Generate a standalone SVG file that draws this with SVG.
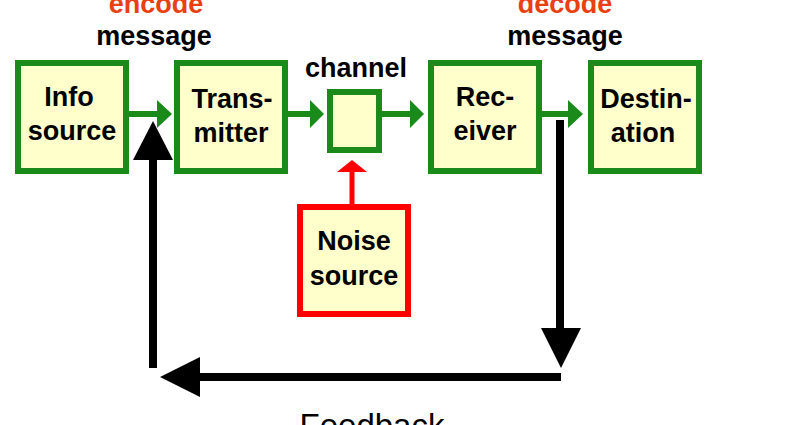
<svg xmlns="http://www.w3.org/2000/svg" width="809" height="425" viewBox="0 0 809 425">
<style>
.box{fill:#ffffcc;stroke:#1a8a1a;stroke-width:6}
.nbox{fill:#ffffcc;stroke:#ff0000;stroke-width:6}
text{font-family:"Liberation Sans",Arial,sans-serif;font-weight:bold;font-size:27px;text-anchor:middle;fill:#000}
.red{fill:#e84010}
.g{stroke:#1a8a1a;stroke-width:6;fill:none}
.k{stroke:#000;stroke-width:8;fill:none}
</style>
<rect width="809" height="425" fill="#fff"/>
<text class="red" x="156" y="13">encode</text>
<text x="154" y="45">message</text>
<text class="red" x="565" y="13">decode</text>
<text x="565" y="45">message</text>
<text x="356" y="77">channel</text>
<g id="info"><rect class="box" x="18" y="63" width="108" height="108"/><text x="69" y="106">Info</text><text x="72" y="140">source</text></g>
<g id="transmitter"><rect class="box" x="177" y="63" width="108" height="108"/><text x="232" y="108">Trans-</text><text x="231" y="142">mitter</text></g>
<g id="channel"><rect class="box" x="330" y="92" width="49" height="58"/></g>
<g id="receiver"><rect class="box" x="431" y="63" width="108" height="108"/><text x="485" y="106">Rec-</text><text x="485" y="140">eiver</text></g>
<g id="destination"><rect class="box" x="591" y="63" width="108" height="108"/><text x="646" y="108">Destin-</text><text x="643" y="142">ation</text></g>
<g id="noise"><rect class="nbox" x="300" y="207" width="108" height="107"/><text x="354" y="250">Noise</text><text x="354" y="285">source</text></g>
<g id="connectors">
<line class="g" x1="129" y1="114" x2="158" y2="114"/><polygon points="157,100 172,114 157,128" fill="#1a8a1a"/>
<line class="g" x1="288" y1="114" x2="312" y2="114"/><polygon points="310,100 324,114 310,128" fill="#1a8a1a"/>
<line class="g" x1="382" y1="114" x2="412" y2="114"/><polygon points="410,100 424,114 410,128" fill="#1a8a1a"/>
<line class="g" x1="542" y1="114" x2="570" y2="114"/><polygon points="568,100 583,114 568,128" fill="#1a8a1a"/>
<line x1="352" y1="204" x2="352" y2="170" stroke="#ff0000" stroke-width="5"/><polygon points="337,172 352,160 367,172" fill="#ff0000"/>
<polyline class="k" points="560,120 560,332"/><polygon points="541,328 581,328 561,368" fill="#000"/>
<polyline class="k" points="561,377 198,377"/><polygon points="200,357 200,397 160,377" fill="#000"/>
<polyline class="k" points="153,368 153,158"/><polygon points="133,160 173,160 153,121" fill="#000"/>
</g>
<text x="372" y="437" style="font-weight:normal;font-size:33px">Feedback</text>
</svg>
